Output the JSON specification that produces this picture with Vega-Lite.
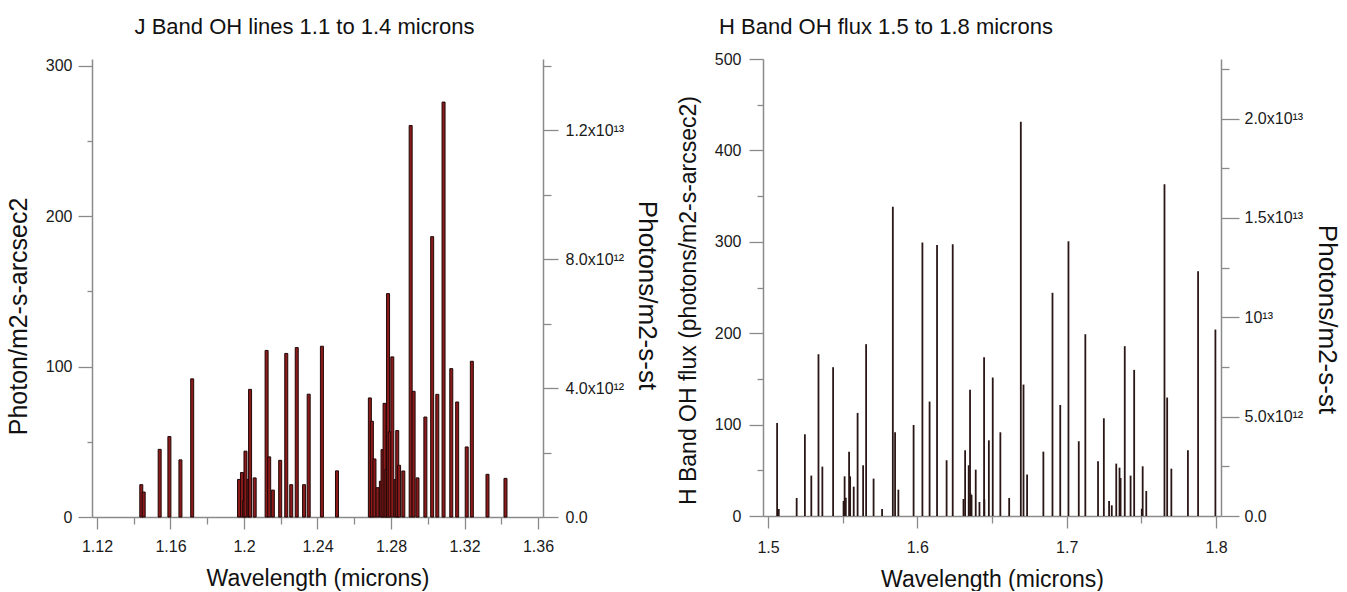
{
  "$schema": "https://vega.github.io/schema/vega-lite/v6.json",
  "padding": {"left": 6, "top": 15, "right": 2, "bottom": 0},
  "background": "white",
  "config": {
    "font": "Liberation Sans",
    "view": {"stroke": null},
    "axis": {
      "grid": false,
      "domainColor": "#8a8a8a",
      "domainWidth": 1.5,
      "tickColor": "#8a8a8a",
      "tickWidth": 1.3,
      "labelColor": "#1a1a1a",
      "labelFontSize": 16,
      "labelFont": "Liberation Sans",
      "titleFont": "Liberation Sans",
      "titleFontSize": 23,
      "titleFontWeight": "normal",
      "titleColor": "#111111",
      "labelOverlap": false,
      "labelFlush": false
    },
    "title": {"font": "Liberation Sans", "fontSize": 22, "fontWeight": "normal", "color": "#111111"}
  },
  "datasets": {
    "jband": [
      {"wl": 1.1441, "flux": 21.5}, {"wl": 1.1454, "flux": 16.6}, {"wl": 1.1541, "flux": 45},
      {"wl": 1.1594, "flux": 53.5}, {"wl": 1.1654, "flux": 38}, {"wl": 1.1718, "flux": 91.9},
      {"wl": 1.1973, "flux": 25}, {"wl": 1.1989, "flux": 29.6}, {"wl": 1.2001, "flux": 11},
      {"wl": 1.2008, "flux": 43.8}, {"wl": 1.2025, "flux": 25}, {"wl": 1.2033, "flux": 84.9},
      {"wl": 1.2058, "flux": 26}, {"wl": 1.2123, "flux": 110.8}, {"wl": 1.2137, "flux": 40},
      {"wl": 1.2157, "flux": 17.9}, {"wl": 1.2197, "flux": 37.7}, {"wl": 1.223, "flux": 108.8},
      {"wl": 1.2257, "flux": 21.5}, {"wl": 1.2287, "flux": 112.7}, {"wl": 1.2327, "flux": 21.5},
      {"wl": 1.2352, "flux": 81.7}, {"wl": 1.2424, "flux": 113.6}, {"wl": 1.2506, "flux": 30.7},
      {"wl": 1.2685, "flux": 79.2}, {"wl": 1.2696, "flux": 63.7}, {"wl": 1.271, "flux": 38.6},
      {"wl": 1.2727, "flux": 19.5}, {"wl": 1.2745, "flux": 23.8}, {"wl": 1.2754, "flux": 44.8},
      {"wl": 1.2765, "flux": 75.6}, {"wl": 1.2775, "flux": 31.7}, {"wl": 1.2784, "flux": 148.6},
      {"wl": 1.2793, "flux": 56.6}, {"wl": 1.2807, "flux": 106.5}, {"wl": 1.2825, "flux": 24.9},
      {"wl": 1.2834, "flux": 57.5}, {"wl": 1.2844, "flux": 34.4}, {"wl": 1.2867, "flux": 30.6},
      {"wl": 1.2907, "flux": 260.4}, {"wl": 1.2923, "flux": 83.6}, {"wl": 1.2944, "flux": 26},
      {"wl": 1.2987, "flux": 66.5}, {"wl": 1.3024, "flux": 186.5}, {"wl": 1.3052, "flux": 81.6},
      {"wl": 1.3086, "flux": 276}, {"wl": 1.3128, "flux": 98.7}, {"wl": 1.316, "flux": 76.5},
      {"wl": 1.3212, "flux": 46.6}, {"wl": 1.324, "flux": 103.6}, {"wl": 1.3325, "flux": 28.4},
      {"wl": 1.3423, "flux": 25.7}
    ],
    "hband": [
      {"wl": 1.5061, "flux": 101.8}, {"wl": 1.5072, "flux": 7.7}, {"wl": 1.5192, "flux": 19.7},
      {"wl": 1.5247, "flux": 89.4}, {"wl": 1.529, "flux": 44.2}, {"wl": 1.5338, "flux": 177},
      {"wl": 1.5364, "flux": 54}, {"wl": 1.5436, "flux": 162.8}, {"wl": 1.5506, "flux": 16.4},
      {"wl": 1.5513, "flux": 43.4}, {"wl": 1.5521, "flux": 20}, {"wl": 1.5543, "flux": 70.4},
      {"wl": 1.555, "flux": 43.4}, {"wl": 1.5574, "flux": 32.1}, {"wl": 1.56, "flux": 112.8},
      {"wl": 1.5637, "flux": 55.5}, {"wl": 1.5657, "flux": 188}, {"wl": 1.5707, "flux": 40.9},
      {"wl": 1.5764, "flux": 7.7}, {"wl": 1.5836, "flux": 338.3}, {"wl": 1.5851, "flux": 91.6},
      {"wl": 1.5873, "flux": 28.8}, {"wl": 1.5975, "flux": 99.6}, {"wl": 1.6034, "flux": 299.3},
      {"wl": 1.6082, "flux": 125.2}, {"wl": 1.6132, "flux": 296.4}, {"wl": 1.6196, "flux": 61},
      {"wl": 1.6237, "flux": 297.4}, {"wl": 1.6309, "flux": 18.6}, {"wl": 1.632, "flux": 71.9},
      {"wl": 1.6344, "flux": 55.5}, {"wl": 1.6353, "flux": 138}, {"wl": 1.6357, "flux": 24.5},
      {"wl": 1.6363, "flux": 23}, {"wl": 1.6391, "flux": 50.7}, {"wl": 1.6416, "flux": 15.3},
      {"wl": 1.6447, "flux": 173.7}, {"wl": 1.6449, "flux": 18.2}, {"wl": 1.6479, "flux": 82.8},
      {"wl": 1.6505, "flux": 151.5}, {"wl": 1.6556, "flux": 91.6}, {"wl": 1.6615, "flux": 19.7},
      {"wl": 1.6693, "flux": 431.4}, {"wl": 1.6711, "flux": 143.8}, {"wl": 1.6735, "flux": 45.3},
      {"wl": 1.6844, "flux": 70.4}, {"wl": 1.6905, "flux": 244.2}, {"wl": 1.6957, "flux": 121.5},
      {"wl": 1.7012, "flux": 300.7}, {"wl": 1.7081, "flux": 81.8}, {"wl": 1.7125, "flux": 198.9},
      {"wl": 1.721, "flux": 59.9}, {"wl": 1.7249, "flux": 106.9}, {"wl": 1.7284, "flux": 16.4},
      {"wl": 1.7302, "flux": 11.7}, {"wl": 1.7332, "flux": 57.3}, {"wl": 1.7354, "flux": 52.9},
      {"wl": 1.7361, "flux": 41.6}, {"wl": 1.7389, "flux": 185.8}, {"wl": 1.7428, "flux": 44.2},
      {"wl": 1.7452, "flux": 159.9}, {"wl": 1.7503, "flux": 8}, {"wl": 1.7509, "flux": 54.4},
      {"wl": 1.7533, "flux": 27.4}, {"wl": 1.7655, "flux": 363.1}, {"wl": 1.7673, "flux": 129.6},
      {"wl": 1.7701, "flux": 51.8}, {"wl": 1.7812, "flux": 71.9}, {"wl": 1.788, "flux": 267.9},
      {"wl": 1.7996, "flux": 204}
    ]
  },
  "hconcat": [
    {
      "width": 451,
      "height": 458,
      "title": {"text": "J Band OH lines 1.1 to 1.4 microns", "dx": -13, "offset": 19},
      "layer": [
        {
          "data": {"name": "jband"},
          "mark": {"type": "bar", "width": 3, "fill": "#8b1a1a", "stroke": "#200808", "strokeWidth": 1},
          "encoding": {
            "x": {
              "field": "wl", "type": "quantitative",
              "scale": {"domain": [1.12, 1.36], "nice": false, "zero": false},
              "axis": {
                "title": "Wavelength (microns)",
                "values": [1.12, 1.14, 1.16, 1.18, 1.2, 1.22, 1.24, 1.26, 1.28, 1.3, 1.32, 1.34, 1.36],
                "labelExpr": "indexof(['1.12','1.16','1.2','1.24','1.28','1.32','1.36'], format(datum.value, '.2~f')) >= 0 ? format(datum.value, '.2~f') : ''",
                "tickSize": {"condition": {"test": "indexof(['1.12','1.16','1.2','1.24','1.28','1.32','1.36'], format(datum.value, '.2~f')) >= 0", "value": 12}, "value": 7},
                "labelPadding": 9,
                "titlePadding": 13
              }
            },
            "y": {
              "field": "flux", "type": "quantitative",
              "scale": {"domain": [0, 304.656], "nice": false},
              "axis": {
                "title": "Photon/m2-s-arcsec2",
                "titleFontSize": 25,
                "titleY": 257,
                "values": [0, 50, 100, 150, 200, 250, 300],
                "labelExpr": "datum.value % 100 === 0 ? datum.label : ''",
                "tickSize": {"condition": {"test": "datum.value % 100 === 0", "value": 14}, "value": 5},
                "labelPadding": 6,
                "titlePadding": 14
              }
            }
          }
        },
        {
          "mark": {"type": "rule", "opacity": 0},
          "encoding": {
            "y": {
              "datum": 0, "type": "quantitative",
              "scale": {"domain": [0, 14217294900222], "nice": false},
              "axis": {
                "orient": "right",
                "title": "Photons/m2-s-st",
                "titleFontSize": 26,
                "titleY": 236,
                "values": [0, 2000000000000, 4000000000000, 6000000000000, 8000000000000, 10000000000000, 12000000000000, 14000000000000],
                "labelExpr": "datum.value == 0 ? '0.0' : datum.value == 4000000000000 ? '4.0x10¹²' : datum.value == 8000000000000 ? '8.0x10¹²' : datum.value == 12000000000000 ? '1.2x10¹³' : ''",
                "tickSize": {"condition": {"test": "datum.value % 4000000000000 === 0", "value": 15}, "value": 8},
                "labelPadding": 7,
                "titlePadding": 10
              }
            }
          }
        }
      ],
      "resolve": {"scale": {"y": "independent"}}
    },
    {
      "width": 458,
      "height": 457,
      "title": {"text": "H Band OH flux 1.5 to 1.8 microns", "dx": -106, "offset": 12},
      "layer": [
        {
          "data": {"name": "hband"},
          "mark": {"type": "bar", "width": 1.8, "fill": "#2b1616"},
          "encoding": {
            "x": {
              "field": "wl", "type": "quantitative",
              "scale": {"domain": [1.5, 1.8], "nice": false, "zero": false},
              "axis": {
                "title": "Wavelength (microns)",
                "values": [1.5, 1.55, 1.6, 1.65, 1.7, 1.75, 1.8],
                "labelExpr": "indexof(['1.5','1.6','1.7','1.8'], format(datum.value, '.2~f')) >= 0 ? format(datum.value, '.1f') : ''",
                "tickSize": {"condition": {"test": "indexof(['1.5','1.6','1.7','1.8'], format(datum.value, '.2~f')) >= 0", "value": 12}, "value": 7},
                "labelPadding": 11,
                "titlePadding": 13
              }
            },
            "y": {
              "field": "flux", "type": "quantitative",
              "scale": {"domain": [0, 500], "nice": false},
              "axis": {
                "title": "H Band OH flux (photons/m2-s-arcsec2)",
                "titleY": 241,
                "values": [0, 50, 100, 150, 200, 250, 300, 350, 400, 450, 500],
                "labelExpr": "datum.value % 100 === 0 ? datum.label : ''",
                "tickSize": {"condition": {"test": "datum.value % 100 === 0", "value": 14}, "value": 6},
                "labelPadding": 8,
                "titlePadding": 14
              }
            }
          }
        },
        {
          "mark": {"type": "rule", "opacity": 0},
          "encoding": {
            "y": {
              "datum": 0, "type": "quantitative",
              "scale": {"domain": [0, 23000000000000], "nice": false},
              "axis": {
                "orient": "right",
                "title": "Photons/m2-s-st",
                "titleFontSize": 26,
                "titleY": 260,
                "values": [0, 2500000000000, 5000000000000, 7500000000000, 10000000000000, 12500000000000, 15000000000000, 17500000000000, 20000000000000, 22500000000000],
                "labelExpr": "datum.value == 0 ? '0.0' : datum.value == 5000000000000 ? '5.0x10¹²' : datum.value == 10000000000000 ? '10¹³' : datum.value == 15000000000000 ? '1.5x10¹³' : datum.value == 20000000000000 ? '2.0x10¹³' : ''",
                "tickSize": {"condition": {"test": "datum.value % 5000000000000 === 0", "value": 18}, "value": 8},
                "labelPadding": 5,
                "titlePadding": 11
              }
            }
          }
        }
      ],
      "resolve": {"scale": {"y": "independent"}}
    }
  ],
  "spacing": 17
}
